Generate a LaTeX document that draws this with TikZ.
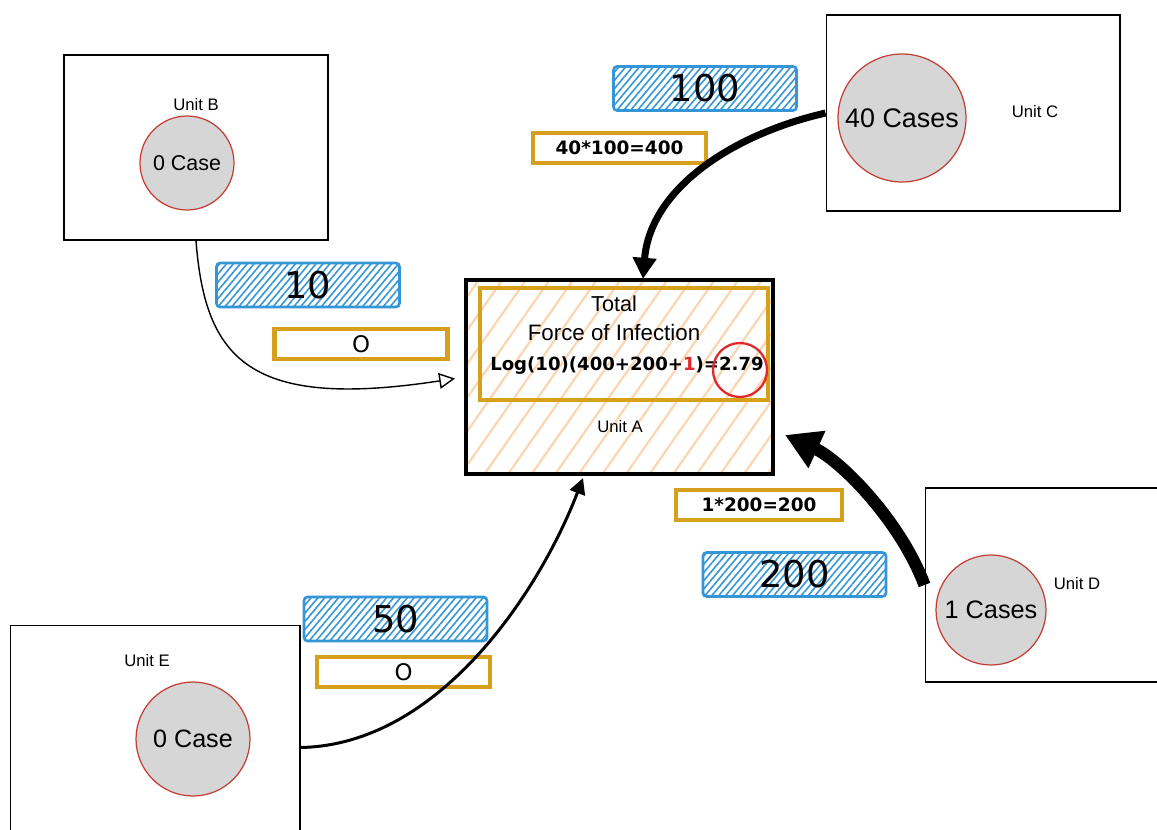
\documentclass[tikz,border=0pt]{standalone}
\usepackage{fontspec}
\setmainfont{Liberation Sans}
\newfontfamily\dejavu{DejaVu Sans}
\usetikzlibrary{arrows.meta,patterns.meta}
\definecolor{gold}{RGB}{214,160,28}
\definecolor{hatchblue}{RGB}{52,150,214}
\definecolor{peach}{RGB}{250,214,178}
\definecolor{ringred}{RGB}{196,62,52}
\definecolor{discgray}{RGB}{214,214,214}
\definecolor{markred}{RGB}{226,40,40}
\begin{document}
\begin{tikzpicture}[x=0.02cm, y=-0.02cm,
    unitbox/.style={draw, line width=0.6pt, inner sep=0pt},
    unitname/.style={font=\fontsize{9.5}{11}\selectfont},
    disc/.style={shape=circle, draw=ringred, line width=0.7pt, fill=discgray, inner sep=0pt},
    wbox/.style={draw=hatchblue, line width=1.5pt, rounded corners=2pt, minimum width=3.66cm,
                 minimum height=0.88cm, inner sep=0pt, pattern={Lines[angle=50,distance=3pt,line width=0.9pt]},
                 pattern color=hatchblue, font=\dejavu\fontsize{21}{24}\selectfont},
    pbox/.style={draw=gold, line width=2.8pt, fill=white, minimum width=3.46cm, minimum height=0.6cm,
                 inner sep=0pt, font=\dejavu\bfseries\fontsize{10.5}{12}\selectfont},
    zero/.style={font=\dejavu\fontsize{13}{15}\selectfont}]
  \useasboundingbox (0,0) rectangle (1157,829);
  \node[unitbox, line width=2.3pt, minimum width=6.14cm, minimum height=3.88cm,
        pattern={Lines[angle=55,distance=11pt,line width=1.3pt]}, pattern color=peach] (A) at (619.5,377) {};
  \node[draw=gold, line width=1.8pt, minimum width=5.76cm, minimum height=2.24cm] (foi) at (624,344) {};
  \node[font=\fontsize{12.3}{15}\selectfont] (tot) at (614,304) {Total};
  \node[font=\fontsize{12.7}{15}\selectfont] (foitxt) at (614,333) {Force of Infection};
  \node[font=\dejavu\bfseries\fontsize{10.3}{12}\selectfont] (logf) at (627,366) {Log(10)(400+200+\textcolor{markred}{1})=2.79};
  \node[circle, draw=markred, line width=1.3pt, minimum size=1.08cm] (ring) at (740,370) {};
  \node[unitname] (nA) at (620,427) {Unit A};
  \node[unitbox, minimum width=5.28cm, minimum height=3.7cm] (B) at (196,147.5) {};
  \node[unitname] (nB) at (196,105) {Unit B};
  \node[disc, minimum size=1.88cm, font=\fontsize{12.2}{14}\selectfont] (cB) at (187,163) {0 Case};
  \node[unitbox, minimum width=5.88cm, minimum height=3.92cm] (C) at (973,113) {};
  \node[unitname] (nC) at (1035,112) {Unit C};
  \node[disc, minimum size=2.56cm, font=\fontsize{15.3}{18}\selectfont] (cC) at (902,118) {40 Cases};
  \node[unitbox, minimum width=6cm, minimum height=3.88cm] (D) at (1075,585) {};
  \node[unitname] (nD) at (1077,584) {Unit D};
  \node[disc, minimum size=2.2cm, font=\fontsize{14.4}{17}\selectfont] (cD) at (991,610) {1 Cases};
  \node[unitbox, minimum width=5.8cm, minimum height=4.9cm] (E) at (155,747.5) {};
  \node[unitname] (nE) at (147,661) {Unit E};
  \node[disc, minimum size=2.28cm, font=\fontsize{14.3}{17}\selectfont] (cE) at (193,739) {0 Case};
  \node[wbox] (wC) at (705,88.5) {100};
  \node[wbox] (wB) at (308,285) {10};
  \node[wbox] (wD) at (794.5,574.5) {200};
  \node[wbox] (wE) at (395.5,619) {50};
  \node[pbox] (pC) at (619.5,148) {40*100=400};
  \node[pbox, zero] (pB) at (361,344) {O};
  \node[pbox, minimum width=3.32cm] (pD) at (759,505) {1*200=200};
  \node[pbox, zero] (pE) at (403.5,672) {O};
  \draw[line width=0.8pt, -{Triangle[open, length=9pt, width=9pt]}, shorten >=0.2cm]
    (B.south) .. controls (205,360) and (250,410) .. (A.west);
  \draw[line width=4pt, -{Triangle[length=12pt, width=13pt]}]
    (C.west) .. controls (730,135) and (650,190) .. ([xshift=0.47cm]A.north);
  \draw[line width=7pt, -{Triangle[length=20pt, width=22pt]}, shorten >=0.24cm]
    (D.west) .. controls (900,520) and (840,460) .. ([yshift=-1.06cm]A.east);
  \draw[line width=1.7pt, -{Triangle[length=9pt, width=9pt]}]
    (E.east) .. controls (440,745) and (540,590) .. ([xshift=-0.73cm,yshift=-0.06cm]A.south);
\end{tikzpicture}
\end{document}
